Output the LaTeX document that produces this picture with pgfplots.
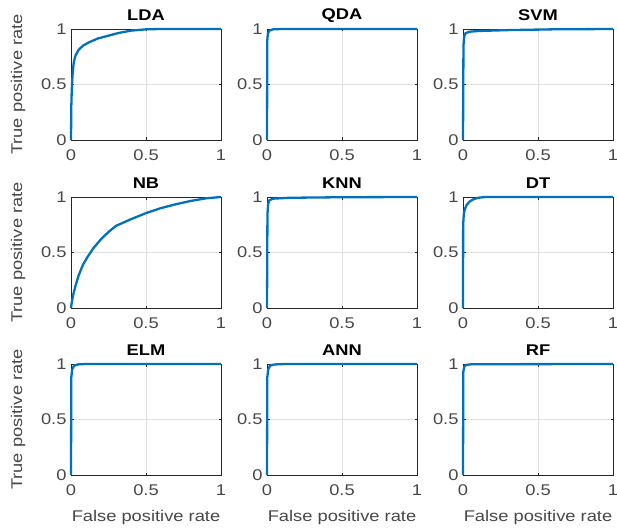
\documentclass[border=0pt]{standalone}
\usepackage{pgfplots}
\pgfplotsset{compat=1.18}
\usepackage{fontspec}
\setmainfont{Liberation Sans}[FakeStretch=1.18]
\definecolor{mblue}{RGB}{0,114,189}
\definecolor{mtxt}{RGB}{38,38,38}
\pgfplotsset{
  roc/.style={
    scale only axis, width=150pt, height=111pt,
    xmin=0, xmax=1, ymin=0, ymax=1,
    xtick={0,0.5,1}, ytick={0,0.5,1},
    grid=major, major grid style={gray!25, line width=0.5pt},
    tick align=inside, major tick length=2.5pt,
    tick style={mtxt, line width=0.5pt},
    axis line style={mtxt, line width=0.6pt},
    clip=false,
    /pgf/number format/assume math mode=true,
    tick label style={font=\fontsize{15.5}{17}\selectfont, text=mtxt!85},
    xticklabel style={yshift=-6pt},
    yticklabel style={xshift=-1pt},
    title style={font=\fontsize{15.5}{17}\selectfont\bfseries, at={(axis description cs:0.5,1.07)}, anchor=center, inner sep=0pt},
    label style={font=\fontsize{15.5}{17}\selectfont, text=mtxt!85},
    xlabel style={at={(axis description cs:0.5,-0.38)}, anchor=center, inner sep=0pt},
    ylabel style={at={(axis description cs:-0.353,0.5)}, anchor=center, inner sep=0pt},
    anchor=north west,
  },
  curve/.style={mblue, line width=2.3pt, line join=round, line cap=butt},
}
\begin{document}
\begin{tikzpicture}
\path[use as bounding box] (0pt,0pt) rectangle (617pt,-529pt);
% Row 1
\begin{axis}[roc, at={(71pt,-29pt)}, title={LDA}, ylabel={True positive rate}]
\addplot[curve] coordinates {(0,0) (0.002,0.3) (0.005,0.45) (0.01,0.58) (0.015,0.66) (0.02,0.71) (0.03,0.76) (0.05,0.81) (0.08,0.85) (0.12,0.88) (0.18,0.915) (0.25,0.94) (0.32,0.965) (0.4,0.985) (0.5,0.997) (0.6,1) (1,1)};
\end{axis}
\begin{axis}[roc, at={(267pt,-29pt)}, title={QDA}]
\addplot[curve] coordinates {(0,0) (0.002,0.9) (0.006,0.96) (0.015,0.985) (0.04,0.997) (0.1,1) (1,1)};
\end{axis}
\begin{axis}[roc, at={(463pt,-29pt)}, title={SVM}]
\addplot[curve] coordinates {(0,0) (0.003,0.85) (0.008,0.93) (0.015,0.96) (0.04,0.975) (0.1,0.982) (0.3,0.99) (0.6,0.997) (1,1)};
\end{axis}
% Row 2
\begin{axis}[roc, at={(71pt,-197pt)}, title={NB}, ylabel={True positive rate}]
\addplot[curve] coordinates {(0,0) (0.005,0.05) (0.015,0.12) (0.03,0.2) (0.05,0.29) (0.08,0.39) (0.11,0.46) (0.15,0.54) (0.2,0.62) (0.25,0.685) (0.3,0.74) (0.35,0.77) (0.4,0.8) (0.5,0.855) (0.6,0.9) (0.7,0.935) (0.8,0.965) (0.9,0.988) (1,1)};
\end{axis}
\begin{axis}[roc, at={(267pt,-197pt)}, title={KNN}]
\addplot[curve] coordinates {(0,0) (0.003,0.85) (0.008,0.94) (0.015,0.97) (0.04,0.985) (0.15,0.993) (0.5,0.998) (1,1)};
\end{axis}
\begin{axis}[roc, at={(463pt,-197pt)}, title={DT}]
\addplot[curve] coordinates {(0,0) (0.001,0.75) (0.005,0.84) (0.012,0.89) (0.025,0.93) (0.045,0.96) (0.07,0.98) (0.1,0.993) (0.15,1) (1,1)};
\end{axis}
% Row 3
\begin{axis}[roc, at={(71pt,-364pt)}, title={ELM}, ylabel={True positive rate}, xlabel={False positive rate}]
\addplot[curve] coordinates {(0,0) (0.002,0.88) (0.008,0.95) (0.02,0.985) (0.05,0.997) (0.1,1) (1,1)};
\end{axis}
\begin{axis}[roc, at={(267pt,-364pt)}, title={ANN}, xlabel={False positive rate}]
\addplot[curve] coordinates {(0,0) (0.002,0.88) (0.008,0.95) (0.02,0.985) (0.05,0.996) (0.12,1) (1,1)};
\end{axis}
\begin{axis}[roc, at={(463pt,-364pt)}, title={RF}, xlabel={False positive rate}]
\addplot[curve] coordinates {(0,0) (0.002,0.93) (0.008,0.975) (0.02,0.992) (0.06,0.998) (1,1)};
\end{axis}
\end{tikzpicture}
\end{document}
